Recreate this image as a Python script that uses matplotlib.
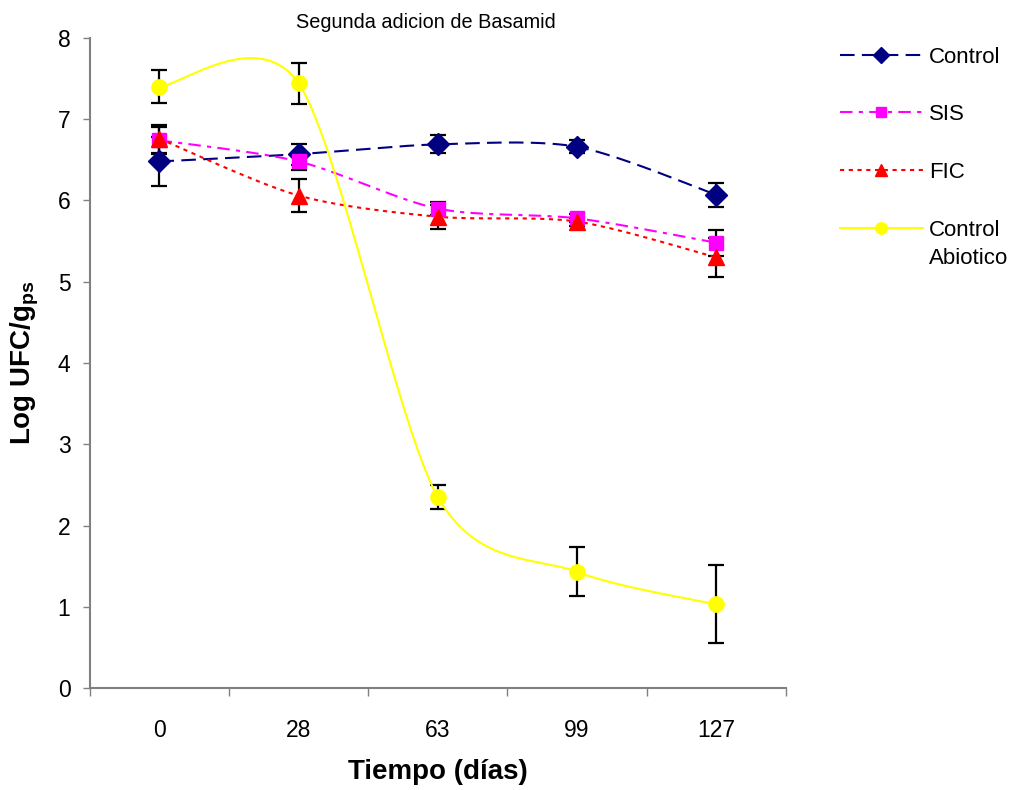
import numpy as np
import matplotlib.pyplot as plt
from matplotlib.ticker import FixedLocator, NullFormatter, FixedFormatter

plt.rcParams['font.family'] = ['Liberation Sans', 'DejaVu Sans']
plt.rcParams['mathtext.fontset'] = 'custom'
plt.rcParams['mathtext.rm'] = 'Liberation Sans'
plt.rcParams['mathtext.bf'] = 'Liberation Sans:bold'

dias = ['0', '28', '63', '99', '127']

control = [6.48, 6.57, 6.69, 6.66, 6.07]
control_err = [0.30, 0.13, 0.11, 0.08, 0.15]
sis = [6.74, 6.48, 5.90, 5.78, 5.48]
sis_err = [0.17, 0.10, 0.08, 0.05, 0.16]
fic = [6.76, 6.06, 5.80, 5.74, 5.30]
fic_err = [0.17, 0.20, 0.15, 0.05, 0.24]
abiotico = [7.40, 7.44, 2.35, 1.43, 1.03]
abiotico_err = [0.20, 0.25, 0.15, 0.30, 0.48]


def suavizar(x, y, n=40, k=7.0):
    # linea suavizada tipo Excel (Bezier con tangentes Catmull-Rom)
    x = np.asarray(x, float)
    y = np.asarray(y, float)
    px = np.concatenate([[x[0]], x, [x[-1]]])
    py = np.concatenate([[y[0]], y, [y[-1]]])
    xs, ys = [], []
    t = np.linspace(0, 1, n)[:, None]
    for i in range(1, len(px) - 2):
        p0, p1, p2, p3 = (np.array([px[j], py[j]]) for j in range(i - 1, i + 3))
        c1 = p1 + (p2 - p0) / k
        c2 = p2 - (p3 - p1) / k
        b = (1 - t) ** 3 * p1 + 3 * (1 - t) ** 2 * t * c1 + 3 * (1 - t) * t ** 2 * c2 + t ** 3 * p2
        xs.extend(b[:, 0])
        ys.extend(b[:, 1])
    return np.array(xs), np.array(ys)


fig = plt.figure(figsize=(10.1, 7.9), dpi=100)
ax = fig.add_axes([0.089, 0.129, 0.689, 0.823])

xpos = np.arange(len(dias)) + 0.5

series = [
    (control, control_err, 'Control', '#000080', (0, (7, 3.5)), 'D', 11),
    (sis, sis_err, 'SIS', '#FF00FF', (0, (6, 3, 2, 3)), 's', 10),
    (fic, fic_err, 'FIC', '#FF0000', (0, (2, 2.2)), '^', 11),
    (abiotico, abiotico_err, 'Control', '#FFFF00', '-', 'o', 11),
]

for vals, err, lab, col, ls, mk, ms in series:
    ax.errorbar(xpos, vals, yerr=err, fmt='none', ecolor='black',
                elinewidth=1.6, capsize=6, capthick=1.6, zorder=2)
for vals, err, lab, col, ls, mk, ms in series:
    sx, sy = suavizar(xpos, vals)
    ax.plot(sx, sy, color=col, linestyle=ls, linewidth=1.5, zorder=3)
    ax.plot(xpos, vals, linestyle='none', marker=mk, markersize=ms,
            color=col, markeredgecolor=col, zorder=4)

handles = []
for vals, err, lab, col, ls, mk, ms in series:
    h, = ax.plot([], [], color=col, linestyle=ls, linewidth=1.5, marker=mk,
                 markersize=ms * 0.75, markeredgecolor=col, label=lab)
    handles.append(h)
leg = fig.legend(handles=handles, loc='upper left', bbox_to_anchor=(0.832, 0.941),
                 frameon=False, fontsize=16, handlelength=3.7, handletextpad=0.3,
                 labelspacing=1.65, borderaxespad=0, borderpad=0)

ax.set_xlim(0, 5)
ax.set_ylim(0, 8)
ax.set_yticks(range(9))
ax.xaxis.set_major_locator(FixedLocator(range(6)))
ax.xaxis.set_major_formatter(NullFormatter())
ax.xaxis.set_minor_locator(FixedLocator(xpos))
ax.xaxis.set_minor_formatter(FixedFormatter(dias))
ax.tick_params(axis='x', which='major', length=6, width=1, color='#808080')
ax.tick_params(axis='x', which='minor', length=0, pad=22, labelsize=16.5)
ax.tick_params(axis='y', length=5, width=1, color='#808080', labelsize=16.5, pad=9)

for s in ['top', 'right']:
    ax.spines[s].set_visible(False)
for s in ['left', 'bottom']:
    ax.spines[s].set_color('#808080')
    ax.spines[s].set_linewidth(1.5)

ax.set_title('Segunda adicion de Basamid', fontsize=14.3, x=0.483, pad=7)
ax.set_xlabel('Tiempo (días)', fontsize=20, fontweight='bold', va='center')
ax.set_ylabel(r'Log UFC/g$_{\mathbf{ps}}$', fontsize=20, fontweight='bold',
              va='center', ha='center')
ax.xaxis.set_label_coords(0.5, -0.129)
ax.yaxis.set_label_coords(-0.093, 0.5)

# segunda linea de la ultima etiqueta de la leyenda
fig.canvas.draw()
t = leg.get_texts()[3]
bb = t.get_window_extent()
fig.text(bb.x0 / fig.bbox.width, (bb.y0 - 28) / fig.bbox.height, 'Abiotico',
         fontsize=16, ha='left', va='bottom')

fig.savefig('out.png', dpi=100)
